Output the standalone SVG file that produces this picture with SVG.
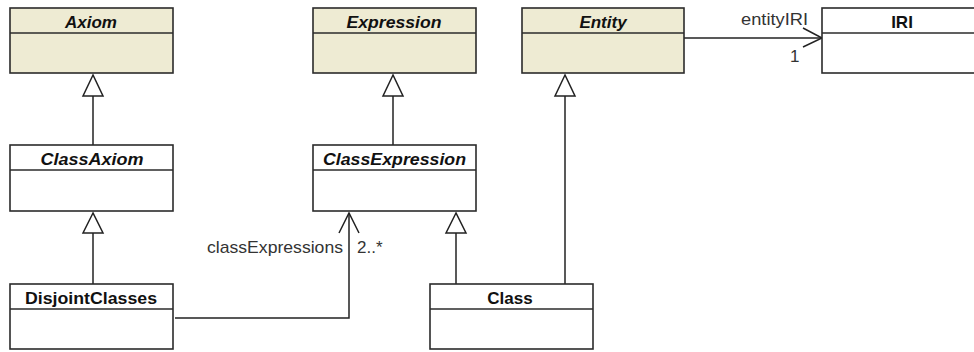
<svg xmlns="http://www.w3.org/2000/svg" width="974" height="352" viewBox="0 0 974 352">
<style>
.box{stroke:#2b2b2b;stroke-width:1.6}
.abs{fill:#EEEBD3}
.con{fill:#ffffff}
.div{stroke:#2b2b2b;stroke-width:1.6}
.t{font-family:"Liberation Sans",Arial,sans-serif;font-size:17px;font-weight:bold;text-anchor:middle;fill:#111}
.i{font-style:italic}
.lbl{font-family:"Liberation Sans",Arial,sans-serif;font-size:17px;fill:#333}
.ln{stroke:#222;stroke-width:1.5;fill:none}
.tri{stroke:#222;stroke-width:1.5;fill:#fff}
</style>
<rect width="974" height="352" fill="#fff"/>
<g id="connectors">
  <g id="gen-classaxiom-axiom"><line class="ln" x1="93" y1="96" x2="93" y2="145"/><polygon class="tri" points="93,75 83,96 103,96"/></g>
  <g id="gen-disjoint-classaxiom"><line class="ln" x1="93" y1="233" x2="93" y2="284"/><polygon class="tri" points="93,213 83,233 103,233"/></g>
  <g id="gen-classexpr-expr"><line class="ln" x1="393" y1="96" x2="393" y2="145"/><polygon class="tri" points="393,75 383,96 403,96"/></g>
  <g id="gen-class-classexpr"><line class="ln" x1="456" y1="233" x2="456" y2="284"/><polygon class="tri" points="456,213 446,233 466,233"/></g>
  <g id="gen-class-entity"><line class="ln" x1="565" y1="96" x2="565" y2="284"/><polygon class="tri" points="565,75 555,96 575,96"/></g>
  <g id="assoc-entity-iri"><polyline class="ln" points="684,38 822,38"/><polyline class="ln" points="803,28 822,38 803,47"/>
    <text class="lbl" x="741" y="25" textLength="67" lengthAdjust="spacingAndGlyphs">entityIRI</text><text class="lbl" x="790" y="62">1</text></g>
  <g id="assoc-disjoint-classexpr"><polyline class="ln" points="175,318 349,318 349,213"/><polyline class="ln" points="339,233 349,213 359,233"/>
    <text class="lbl" x="207" y="253" textLength="136" lengthAdjust="spacingAndGlyphs">classExpressions</text><text class="lbl" x="357" y="253">2..*</text></g>
</g>
<g id="Axiom"><rect class="box abs" x="10" y="8" width="163" height="65"/><line class="div" x1="10" y1="33" x2="173" y2="33"/><text class="t i" x="91" y="28">Axiom</text></g>
<g id="Expression"><rect class="box abs" x="313" y="8" width="163" height="65"/><line class="div" x1="313" y1="33" x2="476" y2="33"/><text class="t i" x="394" y="28" textLength="95" lengthAdjust="spacingAndGlyphs">Expression</text></g>
<g id="Entity"><rect class="box abs" x="522" y="8" width="162" height="65"/><line class="div" x1="522" y1="33" x2="684" y2="33"/><text class="t i" x="603" y="28">Entity</text></g>
<g id="IRI"><rect class="box con" x="822" y="8" width="162" height="65"/><line class="div" x1="822" y1="33" x2="984" y2="33"/><text class="t" x="902" y="28">IRI</text></g>
<g id="ClassAxiom"><rect class="box con" x="10" y="145" width="163" height="66"/><line class="div" x1="10" y1="170" x2="173" y2="170"/><text class="t i" x="92" y="165" textLength="103" lengthAdjust="spacingAndGlyphs">ClassAxiom</text></g>
<g id="ClassExpression"><rect class="box con" x="313" y="145" width="163" height="66"/><line class="div" x1="313" y1="170" x2="476" y2="170"/><text class="t i" x="394.5" y="165" textLength="143" lengthAdjust="spacingAndGlyphs">ClassExpression</text></g>
<g id="DisjointClasses"><rect class="box con" x="10" y="284" width="163" height="65"/><line class="div" x1="10" y1="309" x2="173" y2="309"/><text class="t" x="91" y="304" textLength="132" lengthAdjust="spacingAndGlyphs">DisjointClasses</text></g>
<g id="Class"><rect class="box con" x="430" y="284" width="163" height="65"/><line class="div" x1="430" y1="309" x2="593" y2="309"/><text class="t" x="510" y="304">Class</text></g>
</svg>
